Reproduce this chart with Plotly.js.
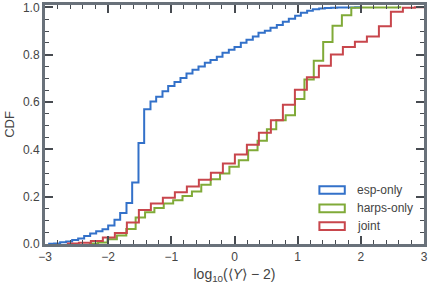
<!DOCTYPE html>
<html>
<head>
<meta charset="utf-8">
<script src="https://cdn.plot.ly/plotly-3.0.1.min.js"></script>
<style>
  html, body { margin: 0; padding: 0; background: #fff; }
  #chart { width: 432px; height: 288px; }
</style>
</head>
<body>
<div id="chart"></div>
<script>
// cumulative step histograms of log10(<Y> - 2): bin edges and CDF value of each bin
const espEdges = [-2.95, -2.855, -2.76, -2.665, -2.57, -2.475, -2.38, -2.285, -2.19, -2.09,
    -2.0, -1.90, -1.81, -1.71, -1.62, -1.52, -1.43, -1.33, -1.24, -1.14,
    -1.05, -0.95, -0.855, -0.76, -0.665, -0.57, -0.47, -0.38, -0.28, -0.19,
    -0.09, 0.0, 0.10, 0.19, 0.29, 0.38, 0.48, 0.57, 0.67, 0.765,
    0.86, 0.96, 1.05, 1.15, 1.24, 1.34, 1.43, 1.53, 1.625, 1.72,
    1.82, 1.91, 2.0];
const espCdf = [0.001, 0.002, 0.007, 0.011, 0.017, 0.023, 0.034, 0.044, 0.054, 0.062,
    0.078, 0.103, 0.131, 0.173, 0.26, 0.427, 0.569, 0.602, 0.622, 0.645,
    0.668, 0.685, 0.702, 0.72, 0.736, 0.75, 0.766, 0.778, 0.791, 0.808,
    0.821, 0.833, 0.85, 0.863, 0.877, 0.893, 0.901, 0.914, 0.926, 0.939,
    0.952, 0.965, 0.977, 0.986, 0.992, 0.995, 0.997, 0.998, 0.999, 0.999,
    0.999, 1.0];

const harpsEdges = [-2.307, -2.159, -2.010, -1.862, -1.713, -1.565, -1.416, -1.268, -1.120, -0.971,
    -0.823, -0.674, -0.526, -0.377, -0.229, -0.081, 0.068, 0.216, 0.365, 0.513,
    0.661, 0.810, 0.958, 1.107, 1.255, 1.404, 1.552, 1.700, 1.849, 1.997,
    2.146, 2.294, 2.442, 2.591, 2.64];
const harpsCdf = [0.002, 0.006, 0.020, 0.036, 0.063, 0.112, 0.134, 0.152, 0.171, 0.185,
    0.203, 0.222, 0.250, 0.274, 0.298, 0.326, 0.354, 0.396, 0.436, 0.485,
    0.523, 0.544, 0.613, 0.695, 0.774, 0.854, 0.922, 0.967, 0.998, 0.999,
    0.999, 0.999, 0.999, 1.0];

const jointEdges = [-2.654, -2.464, -2.274, -2.084, -1.894, -1.704, -1.514, -1.324, -1.134, -0.944,
    -0.754, -0.564, -0.374, -0.184, 0.006, 0.196, 0.386, 0.576, 0.766, 0.956,
    1.146, 1.336, 1.526, 1.716, 1.906, 2.096, 2.286, 2.476, 2.666, 2.856, 3.046];
const jointCdf = [0.002, 0.005, 0.013, 0.027, 0.047, 0.091, 0.144, 0.171, 0.195, 0.219,
    0.243, 0.272, 0.301, 0.340, 0.378, 0.419, 0.470, 0.523, 0.588, 0.652,
    0.705, 0.753, 0.801, 0.832, 0.855, 0.877, 0.920, 0.981, 0.998, 1.0];

const seriesNames = ['esp-only', 'harps-only', 'joint'];
const seriesColors = ['#3371c9', '#80aa38', '#c8464c'];

const xTicks = [-3, -2, -1, 0, 1, 2, 3];
const yTicks = [0, 0.2, 0.4, 0.6, 0.8, 1.0];

function stepTrace(edges, cdf, name, color) {
    // hv steps: each bin value held until the next edge
    return {
        x: edges,
        y: cdf.concat([cdf[cdf.length - 1]]),
        type: 'scatter',
        mode: 'lines',
        line: { shape: 'hv', color: color, width: 2 },
        name: name,
        showlegend: false
    };
}

const traces = [
    stepTrace(espEdges, espCdf, seriesNames[0], seriesColors[0]),
    stepTrace(harpsEdges, harpsCdf, seriesNames[1], seriesColors[1]),
    stepTrace(jointEdges, jointCdf, seriesNames[2], seriesColors[2])
];

const font = 'Liberation Sans, Arial, sans-serif';
const frame = '#69717a';
const tickDark = '#474b51';

const axisCommon = {
    showgrid: false,
    zeroline: false,
    showline: true,
    linecolor: frame,
    linewidth: 3,
    mirror: 'allticks',
    ticks: 'inside',
    ticklen: 8,
    tickwidth: 2,
    tickcolor: tickDark,
    tickfont: { family: font, size: 12, color: '#444' }
};

// hand-made legend with outlined patches, lower right
const shapes = [];
const annotations = [];
const legendRows = [0.226, 0.180, 0.102];
seriesNames.forEach(function (name, i) {
    const yc = [0.226, 0.149, 0.075][i];
    shapes.push({
        type: 'rect', xref: 'paper', yref: 'paper',
        x0: 0.724, x1: 0.791, y0: yc - 0.016, y1: yc + 0.016,
        line: { color: seriesColors[i], width: 2 },
        fillcolor: 'rgba(0,0,0,0)'
    });
    annotations.push({
        xref: 'paper', yref: 'paper', x: 0.818, y: yc,
        xanchor: 'left', yanchor: 'middle', showarrow: false,
        text: name, font: { family: font, size: 12, color: '#444' }
    });
});

const layout = {
    width: 432,
    height: 288,
    margin: { l: 45, r: 8, t: 5, b: 44 },
    paper_bgcolor: '#fff',
    plot_bgcolor: '#fff',
    showlegend: false,
    font: { family: font, color: '#444' },
    xaxis: Object.assign({}, axisCommon, {
        range: [-3, 3],
        tickvals: xTicks,
        minor: { dtick: 0.2, ticks: 'inside', ticklen: 4, tickwidth: 1, tickcolor: tickDark, showgrid: false },
        title: { text: 'log<sub>10</sub>(⟨<i>Y</i>⟩ − 2)', font: { family: font, size: 14, color: '#444' }, standoff: 6 }
    }),
    yaxis: Object.assign({}, axisCommon, {
        range: [0, 1.01],
        tickvals: yTicks,
        tickformat: '.1f',
        minor: { dtick: 0.05, ticks: 'inside', ticklen: 4, tickwidth: 1, tickcolor: tickDark, showgrid: false },
        title: { text: 'CDF', font: { family: font, size: 13, color: '#444' }, standoff: 6 }
    }),
    shapes: shapes,
    annotations: annotations
};

Plotly.newPlot('chart', traces, layout, { staticPlot: true, displayModeBar: false });
</script>
</body>
</html>
